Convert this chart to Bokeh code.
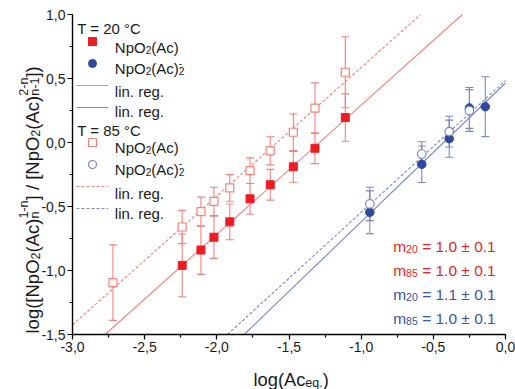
import math
from bokeh.plotting import figure
from bokeh.models import (ColumnDataSource, Whisker, TeeHead, Label, Legend, LegendItem,
                          SingleIntervalTicker, CustomJSTickFormatter, Range1d)
from bokeh.embed import file_html
from bokeh.resources import INLINE

# ---------------- data ----------------
# NpO2(Ac), T = 20 C
x_mono20 = [-2.24, -2.11, -2.02, -1.91, -1.77, -1.63, -1.47, -1.32, -1.11]
y_mono20 = [-0.96, -0.84, -0.74, -0.62, -0.44, -0.33, -0.19, -0.045, 0.195]
e_mono20 = [0.245, 0.19, 0.165, 0.14, 0.12, 0.12, 0.12, 0.12, 0.185]
# NpO2(Ac), T = 85 C
x_mono85 = [-2.72, -2.24, -2.11, -2.02, -1.91, -1.77, -1.63, -1.47, -1.32, -1.11]
y_mono85 = [-1.095, -0.66, -0.54, -0.46, -0.355, -0.22, -0.065, 0.08, 0.268, 0.549]
e_mono85 = [0.295, 0.13, 0.113, 0.11, 0.104, 0.10, 0.11, 0.143, 0.198, 0.277]
# NpO2(Ac)2-, T = 20 C
x_di20 = [-0.94, -0.58, -0.39, -0.25, -0.14]
y_di20 = [-0.545, -0.17, 0.03, 0.27, 0.28]
e_di20 = [0.167, 0.143, 0.145, 0.16, 0.234]
# NpO2(Ac)2-, T = 85 C
x_di85 = [-0.94, -0.58, -0.39, -0.25]
y_di85 = [-0.48, -0.09, 0.085, 0.25]
e_di85 = [0.13, 0.096, 0.12, 0.163]
# linear regressions: mono20, mono85, di20, di85
reg_slope = [1.01, 1.005, 1.085, 1.03]
reg_intercept = [1.302, 1.591, 0.465, 0.484]
# slope annotations
m_labels = ["20", "85", "20", "85"]
m_values = ["1.0 ± 0.1", "1.0 ± 0.1", "1.1 ± 0.1", "1.0 ± 0.1"]

x_lim = [-3.0, 0.0]
y_lim = [-1.5, 1.0]

# ---------------- layout (pixels) ----------------
FIG_W, FIG_H = 515, 389
PAD_TOP, PAD_RIGHT = 14, 10   # space between data box and figure edge
PAD_LEFT = 72                 # space between figure left edge and the y axis (titles live there)
PAD_BOTTOM = 55               # space between the x axis and figure bottom edge
DATA_W = FIG_W - PAD_RIGHT - PAD_LEFT
DATA_H = FIG_H - PAD_TOP - PAD_BOTTOM
kx = DATA_W / (x_lim[1] - x_lim[0])
ky = DATA_H / (y_lim[1] - y_lim[0])


def fx(px):
    return px


def fy(py):
    return FIG_H - py


# ---------------- style ----------------
RED = "#ed1c24"
RED_L = "#f3817b"
BLUE = "#2e4a9e"
BLUE_L = "#7c87c6"
BLUE_T = "#3a52a3"
TXT = "#1a1a1a"
FONT = "Liberation Sans"

# the frame fills the whole figure; axes sit at fixed locations inside it
p = figure(width=FIG_W, height=FIG_H,
           min_border_left=0, min_border_right=0, min_border_top=0, min_border_bottom=0,
           x_range=Range1d(x_lim[0] - PAD_LEFT / kx, x_lim[1] + PAD_RIGHT / kx),
           y_range=Range1d(y_lim[0] - PAD_BOTTOM / ky, y_lim[1] + PAD_TOP / ky),
           output_backend="svg", toolbar_location=None, tools="")
p.grid.visible = False
p.outline_line_color = None
p.background_fill_color = "white"
p.border_fill_color = "white"

fmt = CustomJSTickFormatter(code="return tick.toFixed(1).replace('.', ',');")
p.xaxis[0].fixed_location = y_lim[0]
p.xaxis[0].bounds = tuple(x_lim)
p.yaxis[0].fixed_location = x_lim[0]
p.yaxis[0].bounds = tuple(y_lim)
for ax in (p.xaxis[0], p.yaxis[0]):
    ax.ticker = SingleIntervalTicker(interval=0.5, num_minor_ticks=2)
    ax.formatter = fmt
    ax.axis_line_width = 1.4
    ax.axis_line_color = "black"
    ax.major_tick_line_color = "black"
    ax.minor_tick_line_color = "black"
    ax.major_tick_line_width = 1.2
    ax.minor_tick_line_width = 1.2
    ax.major_tick_in = 0
    ax.major_tick_out = 5
    ax.minor_tick_in = 0
    ax.minor_tick_out = 3
    ax.major_label_text_font = FONT
    ax.major_label_text_font_size = "14px"
    ax.major_label_text_color = TXT
    ax.major_label_standoff = 2

# regression lines, clipped to the data box
line_styles = [(RED_L, "solid"), (RED_L, "3 2"), (BLUE_L, "solid"), (BLUE_L, "3 2")]
line_r = []
for m, b, (c, d) in zip(reg_slope, reg_intercept, line_styles):
    xa = max(x_lim[0], (y_lim[0] - b) / m)
    xb = min(x_lim[1], (y_lim[1] - b) / m)
    xs = [xa, xb]
    ys = [m * x + b for x in xs]
    line_r.append(p.line(xs, ys, line_color=c, line_dash=d, line_width=1.1))


def errbars(xv, yv, ev, color):
    src = ColumnDataSource(dict(x=xv, lo=[y - e for y, e in zip(yv, ev)],
                                hi=[y + e for y, e in zip(yv, ev)]))
    w = Whisker(source=src, base="x", lower="lo", upper="hi", dimension="height",
                line_color=color, line_width=1.1, level="underlay",
                upper_head=TeeHead(size=8, line_color=color, line_width=1.1),
                lower_head=TeeHead(size=8, line_color=color, line_width=1.1))
    p.add_layout(w)


errbars(x_mono20, y_mono20, e_mono20, RED_L)
errbars(x_mono85, y_mono85, e_mono85, RED_L)
errbars(x_di20, y_di20, e_di20, BLUE_L)
errbars(x_di85, y_di85, e_di85, BLUE_L)

r_m20 = p.scatter(x_mono20, y_mono20, marker="square", size=8, fill_color=RED, line_color=RED)
r_m85 = p.scatter(x_mono85, y_mono85, marker="square", size=8, fill_color="white",
                  line_color=RED_L, line_width=1.2)
r_d20 = p.scatter(x_di20, y_di20, marker="circle", size=8.5, fill_color=BLUE, line_color=BLUE)
r_d85 = p.scatter(x_di85, y_di85, marker="circle", size=8.5, fill_color="white",
                  line_color=BLUE_L, line_width=1.2)

# legends (glyphs from Bokeh, texts composed below)
common = dict(padding=0, spacing=2, margin=0, glyph_width=32, glyph_height=20,
              label_height=20, label_width=1, label_standoff=0,
              border_line_alpha=0, background_fill_alpha=0,
              label_text_font_size="15px", label_text_font=FONT)
leg1 = Legend(items=[LegendItem(label=" ", renderers=[r]) for r in (r_m20, r_d20, line_r[0], line_r[2])],
              location=(fx(76), fy(116.7)), **common)
leg2 = Legend(items=[LegendItem(label=" ", renderers=[r]) for r in (r_m85, r_d85, line_r[1], line_r[3])],
              location=(fx(76), fy(217.7)), **common)
p.add_layout(leg1)
p.add_layout(leg2)

# ---------------- rich text helper ----------------
W = {' ': 278, '(': 333, ')': 333, ',': 278, '-': 333, '.': 278, '/': 278, '=': 584,
     '±': 584, '°': 400, '[': 278, ']': 278, 'A': 667, 'C': 722, 'N': 722, 'O': 778,
     'T': 611, 'a': 556, 'c': 500, 'e': 556, 'g': 556, 'i': 222, 'l': 222, 'm': 833,
     'n': 556, 'o': 556, 'p': 556, 'q': 556, 'r': 333}
SCALE = 0.68
SUB_OFF = -0.17
SUP_OFF = 0.42


def tw(s, size):
    return sum(W.get(ch, 556) for ch in s) * size / 1000.0


def rich(segs, x, y, size, color, vertical=False):
    pos = 0.0
    s2 = size * SCALE
    for seg in segs:
        kind = seg[0]
        if kind == "n":
            parts = [(seg[1], 0.0, size)]
            adv = tw(seg[1], size)
        elif kind == "sub":
            parts = [(seg[1], SUB_OFF * size, s2)]
            adv = tw(seg[1], s2)
        elif kind == "sup":
            parts = [(seg[1], SUP_OFF * size, s2)]
            adv = tw(seg[1], s2)
        else:  # stacked sup over sub
            parts = [(seg[1], SUP_OFF * size, s2), (seg[2], SUB_OFF * size, s2)]
            adv = max(tw(seg[1], s2), tw(seg[2], s2))
        for text, off, fs in parts:
            lead = len(text) - len(text.lstrip(" "))
            shift = tw(text[:lead], fs)
            t = text.strip(" ")
            if not t:
                continue
            if vertical:
                lx, ly, ang = x - off, y + pos + shift, math.pi / 2
            else:
                lx, ly, ang = x + pos + shift, y + off, 0.0
            p.add_layout(Label(x=lx, y=ly, x_units="screen", y_units="screen", text=t,
                               angle=ang, text_font=FONT, text_font_size=f"{fs:.1f}px",
                               text_color=color, text_align="left",
                               text_baseline="alphabetic"))
        pos += adv


# axis titles
rich([("n", "log(Ac"), ("sub", "eq."), ("n", ")")], fx(253), fy(379), 18.3, TXT)
rich([("n", "log([NpO"), ("sub", "2"), ("n", "(Ac)"), ("ss", "1-n", "n"),
      ("n", "] / [NpO"), ("sub", "2"), ("n", "(Ac)"), ("ss", "2-n", "n-1"), ("n", "])")],
     fx(31.7), fy(333), 18.5, TXT, vertical=True)

# legend texts
rich([("n", "T = 20 °C")], fx(76.7), fy(28.3), 15, TXT)
rich([("n", "T = 85 °C")], fx(76.7), fy(129.5), 15, TXT)
legend_baselines = [46.7, 68.3, 91.3, 111, 146.7, 168.7, 192.5, 212.5]
legend_texts = [
    [("n", "NpO"), ("sub", "2"), ("n", "(Ac)")],
    [("n", "NpO"), ("sub", "2"), ("n", "(Ac)"), ("ss", "-", "2")],
    [("n", "lin. reg.")],
    [("n", "lin. reg.")],
]
for i, yb in enumerate(legend_baselines):
    rich(legend_texts[i % 4], fx(114.3), fy(yb), 15, TXT)

# slope annotations
m_colors = [RED, RED, BLUE_T, BLUE_T]
m_baselines = [246, 270, 294, 317.7]
for lab, val, c, yb in zip(m_labels, m_values, m_colors, m_baselines):
    rich([("n", "m"), ("sub", lab), ("n", " = " + val)], fx(392.7), fy(yb), 15.5, c)

open("out.html", "w").write(file_html(p, INLINE))
